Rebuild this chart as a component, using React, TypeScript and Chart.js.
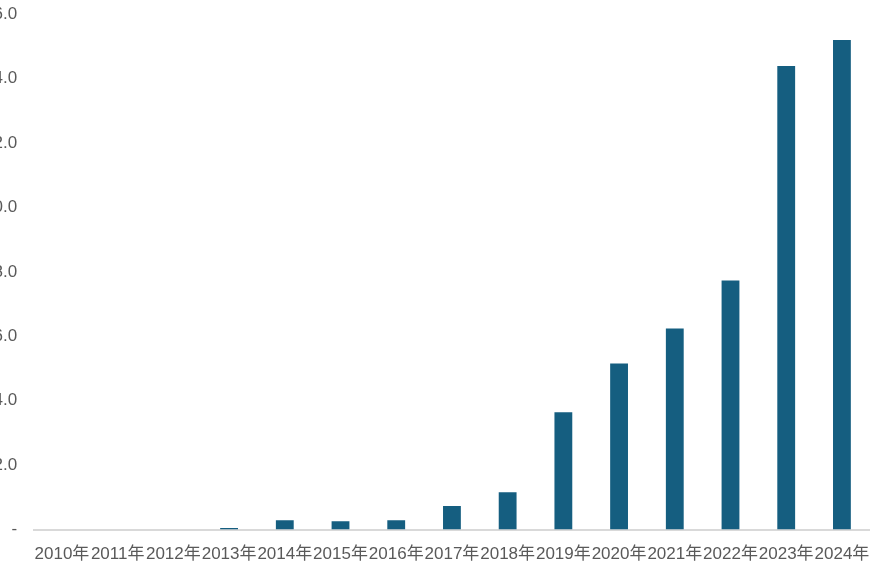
import React, { useEffect, useRef } from "react";
import { Chart, registerables } from "chart.js";

Chart.register(...registerables);

const categories = ["2010年", "2011年", "2012年", "2013年", "2014年", "2015年", "2016年", "2017年", "2018年", "2019年", "2020年", "2021年", "2022年", "2023年", "2024年"];
const values = [0, 0, 0, 0.05, 0.29, 0.26, 0.29, 0.73, 1.16, 3.64, 5.16, 6.24, 7.73, 14.39, 15.2];
const yMin = 0;
const yMax = 16;
const yStep = 2;

const FONT = '"Liberation Sans", "Noto Sans CJK SC", sans-serif';

export default function App() {
  const ref = useRef<HTMLCanvasElement | null>(null);
  useEffect(() => {
    if (!ref.current) return;
    const chart = new Chart(ref.current, {
      type: "bar",
      data: {
        labels: categories,
        datasets: [
          {
            data: values,
            backgroundColor: "#155E80",
            barPercentage: 0.64,
            categoryPercentage: 0.5,
          },
        ],
      },
      options: {
        animation: false,
        responsive: false,
        maintainAspectRatio: false,
        layout: { padding: { top: 0, right: 5, bottom: 0, left: 0 } },
        plugins: { legend: { display: false }, tooltip: { enabled: false } },
        scales: {
          x: {
            grid: { display: false, drawTicks: false },
            border: { display: true, color: "#D9D9D9", width: 2 },
            ticks: {
              color: "#595959",
              font: { family: FONT, size: 17 },
              maxRotation: 0,
              minRotation: 0,
              autoSkip: false,
              padding: 14.5,
            },
          },
          y: {
            min: yMin,
            max: yMax,
            grid: { display: false, drawTicks: false },
            border: { display: false },
            ticks: {
              stepSize: yStep,
              color: "#595959",
              font: { family: FONT, size: 17 },
              padding: 17,
              callback: (v: any) => (Number(v) === 0 ? "-" : Number(v).toFixed(1)),
            },
          },
        },
      },
    });
    return () => chart.destroy();
  }, []);
  return (
    <div style={{ position: "fixed", left: 0, top: 0, width: 875, height: 566, overflow: "hidden", background: "#fff" }}>
      <div style={{ position: "absolute", left: -33, top: -13 }}>
        <canvas ref={ref} width={917} height={592} style={{ display: "block" }} />
      </div>
    </div>
  );
}
